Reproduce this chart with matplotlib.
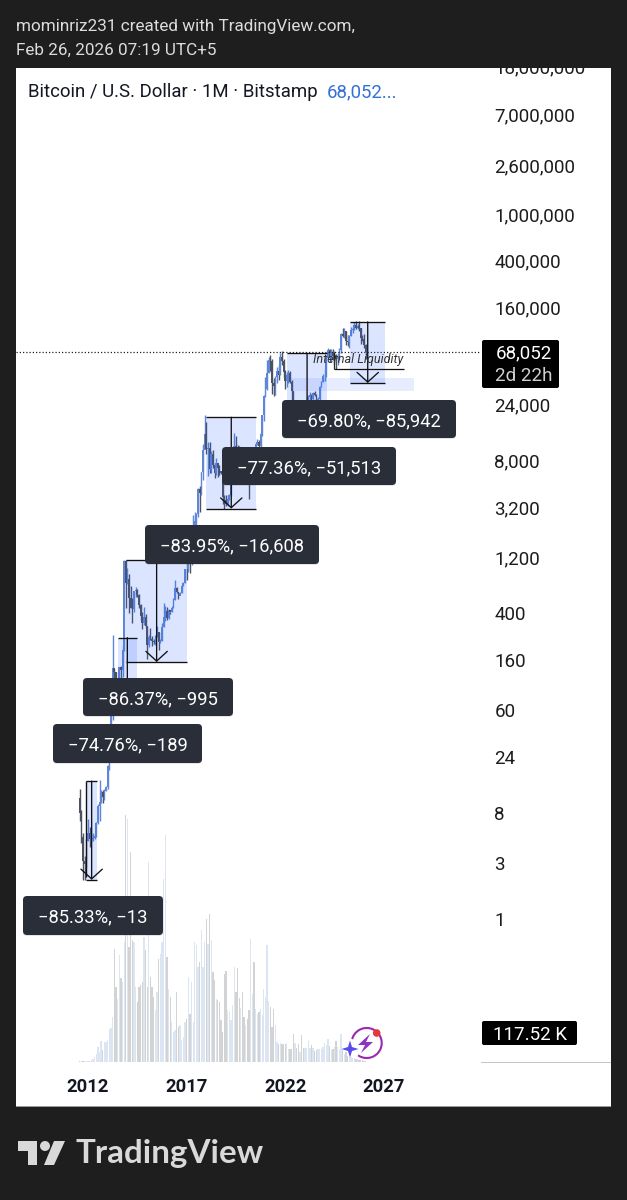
import matplotlib
matplotlib.use("Agg")
import matplotlib.pyplot as plt
import numpy as np
from matplotlib.patches import Rectangle, FancyBboxPatch, Arc, Circle, Polygon
from matplotlib.transforms import Affine2D, ScaledTranslation

# ---------- data ----------
first_open = 10.9
closes = [8.2,5.1,3.2,2.97,4.7,
 5.5,4.9,4.9,5.0,5.2,6.7,9.3,10.1,12.4,11.2,12.6,13.5,
 20.4,33.4,93,139,129,97,106,141,133,198,1129,732,
 800,550,450,445,628,640,586,480,388,338,378,320,
 217,254,244,236,230,263,284,230,236,314,377,430,
 369,437,416,448,531,673,624,575,609,700,745,966,
 965,1190,1080,1350,2300,2480,2875,4700,4340,6450,10000,13800,
 10200,10300,6900,9240,7490,6390,7730,7010,6620,6320,4020,3740,
 3440,3820,4100,5260,8540,10800,10080,9590,8290,9150,7560,7190,
 9350,8530,6410,8630,9450,9140,11350,11650,10780,13800,19700,28990,
 33100,45200,58800,57700,37300,35000,41500,47100,43800,61300,56950,46200,
 38500,43200,45500,37650,31800,19950,23300,20050,19420,20490,17170,16540,
 23130,23150,28470,29250,27200,30470,29230,25940,26960,34660,37720,42270,
 42580,61170,71330,60650,67500,62760,64630,58970,63330,70290,96400,93400,
 102400,84300,82550,94200,104600,107100,115700,108200,114000,109500,90400,87600,
 78700,68052]
highs = [13.0,8.6,5.5,3.5,4.9,
 7.2,6.2,5.4,5.5,5.3,6.8,9.7,15.4,12.8,12.9,13.0,13.9,
 21,34,95,266,140,130,110,141,145,215,1163,1150,
 1000,880,700,545,630,680,660,600,490,420,460,400,
 320,265,305,260,247,268,317,285,245,335,500,470,
 465,445,420,470,545,780,680,620,615,705,750,970,
 1150,1195,1295,1350,2780,2980,2900,4750,4940,6470,11300,19666,
 17170,11780,11700,9750,10000,7780,8500,7400,7400,6600,6500,4150,
 4100,4150,4190,5600,9000,13880,13200,10950,10900,10350,9500,7750,
 9550,10500,9180,9500,10080,10400,11450,12480,12050,13900,19850,29300,
 41950,58350,61780,64900,59600,41300,42400,50500,52900,67000,69000,59000,
 47900,45800,48200,47400,39800,31800,24700,25200,22800,21000,21480,18380,
 23950,25250,29200,31000,29800,31400,31800,30200,28000,35200,38400,44700,
 48900,64000,73780,72800,71900,72000,70000,65000,66500,73600,99800,108300,
 109000,102500,95000,95700,111900,110500,123000,124500,117900,126200,110000,94500,
 97900,79400]
lows = [7.0,4.5,2.2,2.2,2.8,
 4.7,4.2,4.6,4.7,4.9,5.1,6.5,7.0,9.9,9.9,10.6,12.5,
 13,19,33,50,79,88,65,100,113,118,196,456,
 730,410,450,340,420,560,565,450,360,300,325,305,
 165,212,240,215,225,220,257,200,227,235,310,350,
 360,366,400,415,450,530,610,535,590,610,690,745,
 790,915,890,1060,1360,2080,1825,2680,2960,4160,5555,10400,
 9200,6000,6430,6430,7000,5750,6100,5880,6100,6200,3500,3122,
 3340,3360,3750,4050,5320,7460,9060,9300,7700,7300,6500,6430,
 6850,8400,3850,6150,8100,8900,8950,11000,9900,10370,13200,17600,
 28130,32300,45000,47000,30000,28800,29300,37300,39600,43300,53300,42000,
 33000,34300,37200,37400,25400,17600,18900,19500,18150,18200,15480,16300,
 16500,21400,19550,26900,25800,24750,28900,25300,24900,26500,34100,37600,
 38500,41900,59000,56500,56500,58400,53500,49000,52500,58900,66800,91500,
 89200,78200,76600,74400,93400,98300,105100,107500,107300,102000,80600,84500,
 74500,60000]
# monthly volume, thousands
volumes = np.array([1,1,1,1,1,1,1,2,3,5,8,15,10,21,12,20,20,22,33,34,45,113,75,63,107,84,80,120,247,243,
 115,210,122,120,75,60,75,77,80,125,112,75,200,85,75,65,52,70,103,108,120,183,227,105,73,65,40,30,32,70,
 35,37,22,25,40,43,85,48,80,40,120,117,95,100,132,95,120,143,118,148,122,90,82,63,62,60,42,30,88,91,
 52,50,42,57,95,70,94,64,54,70,45,37,43,52,123,68,100,53,48,50,53,47,73,65,117,61,55,35,53,37,
 20,18,19,18,18,18,19,13,13,13,28,19,14,18,10,27,14,14,14,22,14,17,14,11,12,13,13,13,15,19,
 17,23,16,12,13,15,21,15,13,28,12,8,10,6,5,5,4,4,3,3,2,2,2,1,1]) * 100.0
years = 2011 + 7/12 + np.arange(len(closes)) / 12
opens = [first_open] + closes[:-1]

price_ticks = [18000000,7000000,2600000,1000000,400000,160000,24000,8000,3200,1200,400,160,60,24,8,3,1]
year_ticks = [2012,2017,2022,2027]
last_price = 68052
last_volume = "117.52 K"

# measure tools: x0, x1 (years), top, bottom price
tool_x0 = [2011.91,2013.52,2013.93,2018.0,2022.1,2025.3]
tool_x1 = [2012.46,2014.47,2017.03,2020.53,2024.12,2027.07]
tool_top = [15.2,253,1152,19000,66585,123126]
tool_bot = [2.2,64,157,3175,15072,37184]
tool_lbl = ["\u221285.33%, \u221213","\u221274.76%, \u2212189","\u221286.37%, \u2212995",
            "\u221283.95%, \u221216,608","\u221277.36%, \u221251,513","\u221269.80%, \u221285,942"]
lbl_boxes = [(23,896,163,935),(53,724,202,763),(83,678,233,716),
             (145,525,319,564),(222,447,396,485),(282,400,456,438)]
zone_low, zone_high = 31800, 41000
liq_level = 48900

BG = "#1e1e1e"
UP = "#5f86d8"; DOWN = "#4d5261"
VUP = "#dce6f2"; VDN = "#d3d3d3"
FONT = "Roboto"

# ---------- layout ----------
W, H = 627, 1200
fig = plt.figure(figsize=(W/100, H/100), dpi=100, facecolor=BG)
px = Affine2D().scale(1, -1).translate(0, H)

def axrect(l, t, r, b):
    return [l/W, 1-b/H, (r-l)/W, (b-t)/H]

fig.add_artist(Rectangle((16, 68), 595, 1038, transform=px, fc="white", ec="none", zorder=-2))
fig.add_artist(Rectangle((16, 1105.5), 595, 1.5, transform=px, fc="#9a9a9a", ec="none", zorder=-1))

xlim = (2012+(16-88)/19.72, 2012+(481-88)/19.72)

# volume
vax = fig.add_axes(axrect(16, 60, 481, 1062), zorder=0)
vax.patch.set_alpha(0); vax.axis("off")
vax.set_xlim(xlim); vax.set_ylim(0, (1062-60)*100)
up = np.array(closes) >= np.array(opens)
vax.bar(years, volumes, width=0.066, color=[VUP if u else VDN for u in up], lw=0)

# price
ax = fig.add_axes(axrect(16, 60, 481, 1106), zorder=1)
ax.patch.set_alpha(0)
ax.set_yscale("log")
ax.set_xlim(xlim)
ax.set_ylim(10**((920-1106)/117.5), 10**((920-60)/117.5))
for s in ax.spines.values():
    s.set_visible(False)
ax.yaxis.tick_right()
ax.set_yticks(price_ticks)
ax.set_yticklabels([f"{p:,}" for p in price_ticks], fontfamily=FONT, fontsize=13.5, color="#1c1c1c",
                   va="center_baseline")
ax.yaxis.set_minor_locator(matplotlib.ticker.NullLocator())
ax.tick_params(axis="y", length=0, pad=9.6)
shift = ScaledTranslation(0, 1/100, fig.dpi_scale_trans)
for lab in ax.get_yticklabels():
    lab.set_transform(lab.get_transform() + shift)
ax.set_xticks(year_ticks)
ax.set_xticklabels([str(y) for y in year_ticks], fontfamily=FONT, fontsize=13.2, fontweight="bold", color="#131722")
ax.tick_params(axis="x", length=0, direction="in", pad=-20.2)

cols = [UP if u else DOWN for u in up]
ax.vlines(years, lows, highs, colors=cols, lw=1.0, zorder=2)
ax.bar(years, np.abs(np.array(closes)-np.array(opens)), bottom=np.minimum(closes, opens),
       width=0.085, color=cols, lw=0, zorder=2)

ax.axhline(last_price, color="#222222", lw=0.9, ls=(0, (1, 1.6)), zorder=3)

BLUE = "#2962ff"
for x0, x1, t, b in zip(tool_x0, tool_x1, tool_top, tool_bot):
    ax.add_patch(Rectangle((x0, b), x1-x0, t-b, fc=BLUE, alpha=0.16, ec="none", zorder=3))
    ax.hlines([t, b], x0, x1, color="#111111", lw=0.95, zorder=4)
    xm = (x0+x1)/2
    ax.annotate("", xy=(xm, b), xytext=(xm, t), zorder=4,
                arrowprops=dict(arrowstyle="->,head_length=0.5,head_width=0.55", color="#111111",
                                lw=0.95, shrinkA=0, shrinkB=0, mutation_scale=14))

# left guide on the first tool
ax.vlines(tool_x0[0]-0.03, tool_bot[0]*1.05, tool_top[0], color="#111111", lw=1.0, zorder=4)

# internal-liquidity zone
ax.add_patch(Rectangle((2022.3, zone_low), 6.25, zone_high-zone_low, fc=BLUE, alpha=0.11, ec="none", zorder=3))
ax.hlines(liq_level, 2024.45, 2028.0, color="#111111", lw=0.9, zorder=4)
ax.vlines(2024.45, liq_level, last_price, color="#222222", lw=0.9, zorder=4)
fig.text(358.5/W, 1-359.5/H, "Internal Liquidity", fontfamily=FONT, style="italic", fontsize=9.1,
         color="#333333", ha="center", va="center", zorder=3)

# measure labels
for txt, (l, t, r, b) in zip(tool_lbl, lbl_boxes):
    fig.add_artist(FancyBboxPatch((l+4, t+5), r-l-8, b-t-8, boxstyle="round,pad=4,rounding_size=4",
                                  transform=px, fc="#000000", ec="none", alpha=0.10, zorder=3.8))
    fig.add_artist(FancyBboxPatch((l+4, t+4), r-l-8, b-t-8, boxstyle="round,pad=4,rounding_size=4",
                                  transform=px, fc="#2a2e39", ec="none", zorder=4))
    fig.text((l+r)/2/W, 1-(t+b)/2/H, txt, fontfamily=FONT, fontsize=13.2, color="white",
             ha="center", va="center_baseline", zorder=4.1)

# price-scale tags
fig.add_artist(FancyBboxPatch((482, 340), 77, 48, boxstyle="round,pad=0,rounding_size=2", transform=px,
                              fc="black", ec="none", zorder=4))
fig.text(524/W, 1-351.5/H, f"{last_price:,}", fontfamily=FONT, fontsize=13.5, color="white",
         ha="center", va="center_baseline", zorder=4.1)
fig.text(524/W, 1-374.5/H, "2d 22h", fontfamily=FONT, fontsize=13.5, color="#d0d0d0",
         ha="center", va="center_baseline", zorder=4.1)
fig.add_artist(FancyBboxPatch((482, 1021), 95, 24, boxstyle="round,pad=0,rounding_size=2", transform=px,
                              fc="black", ec="none", zorder=4))
fig.text(530/W, 1-1033/H, last_volume, fontfamily=FONT, fontsize=13.5, color="white",
         ha="center", va="center_baseline", zorder=4.1)
fig.add_artist(Rectangle((481, 1061.5), 130, 1, transform=px, fc="#c4c4c4", ec="none", zorder=2))

# assistant badge
fig.add_artist(Arc((366.7, 1043), 30, 30, angle=0, theta1=-165, theta2=125, transform=px,
                   ec="#9c27b0", lw=1.5, zorder=3))
fig.add_artist(Circle((376.7, 1033), 3.8, transform=px, fc="#e53935", ec="none", zorder=3.1))
fig.add_artist(Polygon([(370,1034),(358,1045),(365,1045),(361,1053),(373,1042),(366,1042)], closed=True,
                       transform=px, fc="#8e35c0", ec="none", zorder=3.1))
s = 8.5; c = (350, 1049); q = 2
fig.add_artist(Polygon([(c[0],c[1]-s),(c[0]+q,c[1]-q),(c[0]+s,c[1]),(c[0]+q,c[1]+q),(c[0],c[1]+s),
                        (c[0]-q,c[1]+q),(c[0]-s,c[1]),(c[0]-q,c[1]-q)], closed=True, transform=px,
                       fc="#5a4bf0", ec="none", zorder=3.1))

# top mask and header
fig.add_artist(Rectangle((0, 0), W, 68, transform=px, fc=BG, ec="none", zorder=5))
fig.text(16/W, 1-27/H, "mominriz231 created with TradingView.com,", fontfamily=FONT, fontsize=12.3,
         color="#dcdcdc", ha="left", va="center", zorder=6)
fig.text(16/W, 1-50/H, "Feb 26, 2026 07:19 UTC+5", fontfamily=FONT, fontsize=12.3,
         color="#dcdcdc", ha="left", va="center", zorder=6)
fig.text(28/W, 1-92/H, "Bitcoin / U.S. Dollar \u00b7 1M \u00b7 Bitstamp", fontfamily=FONT, fontsize=13.4,
         color="#131722", ha="left", va="center", zorder=6)
fig.text(327/W, 1-92/H, "68,052...", fontfamily=FONT, fontsize=13.4,
         color="#3370d8", ha="left", va="center", zorder=6)

# footer logo
LG = "#d9d9d9"
fig.add_artist(Polygon([(18,1141),(37,1141),(37,1165),(28,1165),(28,1151),(18,1151)], closed=True,
                       transform=px, fc=LG, ec="none", zorder=3))
fig.add_artist(Circle((45, 1146), 5, transform=px, fc=LG, ec="none", zorder=3))
fig.add_artist(Polygon([(54,1141),(65,1141),(54,1165),(44,1165)], closed=True,
                       transform=px, fc=LG, ec="none", zorder=3))
fig.text(76/W, 1-1153/H, "TradingView", fontfamily="Lato", fontweight="bold", fontsize=23.9,
         color=LG, ha="left", va="center", zorder=3)

fig.savefig("out.png", dpi=100, facecolor=BG)
